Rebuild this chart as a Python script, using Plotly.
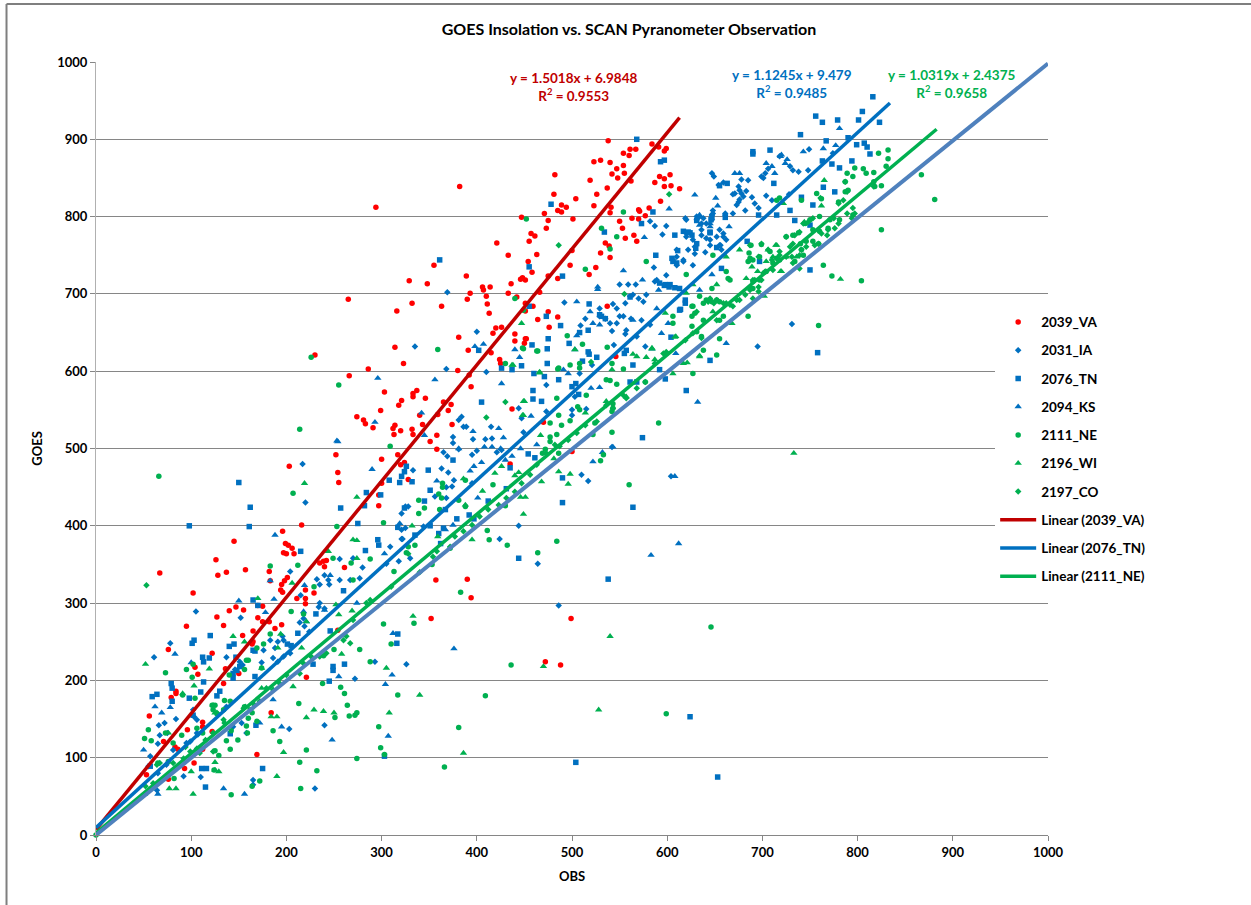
import plotly.graph_objects as go

# values as (OBS, GOES) pairs
va_2039 = [
    (538,898),(561,887),(567,887),(554,882),(560,879),(584,894),(591,890),(599,888),(597,885),(530,873),(523,871),(540,870),
    (554,866),(547,862),(542,855),(555,856),(548,850),(562,846),(519,847),(482,854),(537,837),(526,829),(481,829),(504,823),
    (523,814),(489,815),(494,812),(485,808),(489,806),(471,804),(475,795),(501,797),(473,785),(457,778),(461,775),(455,768),
    (447,799),(463,751),(454,742),(458,728),(448,721),(451,718),(475,723),(485,720),(498,737),(500,756),(541,812),(540,805),
    (570,809),(571,807),(581,811),(577,801),(563,798),(570,797),(550,794),(553,785),(535,766),(539,762),(530,753),(540,747),
    (556,772),(565,776),(568,768),(525,734),(518,725),(587,844),(592,852),(597,849),(603,854),(597,839),(604,840),(613,836),
    (593,820),(537,684),(475,677),(485,670),(464,667),(459,684),(476,657),(451,642),(450,636),(382,839),(294,812),(421,766),
    (433,750),(355,737),(329,717),(348,713),(389,723),(446,719),(436,713),(406,709),(407,705),(414,709),(393,701),(433,701),
    (466,702),(390,693),(410,697),(265,693),(442,696),(332,688),(411,687),(363,684),(316,678),(451,688),(413,675),(451,678),
    (420,656),(426,657),(417,649),(440,648),(381,644),(440,639),(452,642),(314,631),(391,627),(415,624),(230,621),(323,610),
    (424,615),(425,610),(286,603),(380,601),(392,595),(266,594),(394,580),(303,573),(333,571),(337,575),(333,567),(346,565),
    (365,560),(373,557),(321,562),(318,556),(299,549),(370,549),(359,544),(340,543),(274,541),(281,537),(283,532),(374,531),
    (343,531),(314,530),(312,526),(291,527),(332,525),(320,523),(313,518),(333,518),(437,551),(358,517),(351,509),(252,492),
    (358,499),(317,492),(300,486),(203,477),(320,479),(324,482),(254,469),(255,456),(328,460),(300,455),(297,440),(297,426),
    (196,393),(216,401),(145,380),(199,377),(202,375),(206,371),(197,365),(200,364),(208,364),(126,356),(157,343),(67,339),
    (128,336),(137,340),(182,341),(183,329),(201,333),(198,329),(195,324),(194,317),(196,314),(102,313),(220,317),(220,306),
    (220,299),(229,313),(211,306),(147,295),(140,290),(155,291),(170,297),(175,296),(127,282),(170,281),(175,276),(182,276),
    (195,272),(188,267),(95,270),(134,271),(165,264),(154,258),(165,250),(164,247),(76,240),(122,235),(104,217),(107,208),
    (136,215),(150,209),(134,196),(84,186),(84,183),(79,178),(221,204),(239,354),(242,355),(235,352),(240,347),(261,346),
    (56,154),(112,146),(112,140),(96,136),(122,134),(71,121),(83,114),(86,111),(112,111),(103,93),(93,86),(76,72),(53,78),
    (169,104),(184,158),(254,265),(546,619),(500,496),(435,480),(470,534),(357,330),(390,331),(394,307),(352,280),(499,280),
    (472,224),(488,220),
]

ia_2031 = [
    (749,887),(647,856),(649,852),(678,848),(685,847),(669,829),(675,839),(676,834),(680,826),(689,825),(675,819),(673,815),
    (692,817),(696,811),(704,827),(669,804),(682,808),(728,829),(701,850),(699,852),(703,856),(706,862),(718,878),(729,865),
    (732,860),(738,858),(748,860),(774,882),(631,800),(634,800),(636,791),(648,804),(647,796),(661,802),(599,788),(595,777),
    (587,788),(582,794),(620,796),(620,778),(627,770),(636,783),(645,770),(652,774),(659,778),(662,770),(656,763),(657,757),
    (640,754),(629,761),(622,757),(610,757),(606,744),(610,737),(617,744),(586,734),(587,716),(550,712),(559,712),(567,712),
    (492,689),(543,687),(556,688),(561,697),(564,699),(570,694),(578,699),(575,690),(529,681),(547,681),(550,671),(554,671),
    (514,668),(509,659),(529,671),(535,668),(540,662),(547,662),(562,668),(557,653),(542,652),(573,666),(577,632),(731,661),
    (695,632),(568,645),(582,660),(544,634),(335,632),(368,603),(410,599),(381,537),(384,541),(386,528),(389,528),(415,528),
    (375,515),(396,512),(409,512),(416,513),(375,507),(381,499),(365,495),(369,490),(395,492),(400,497),(421,495),(426,498),
    (363,474),(370,469),(333,472),(376,459),(368,450),(374,451),(356,438),(368,436),(395,455),(424,383),(444,400),(464,351),
    (486,297),(330,358),(510,466),(517,458),(604,464),(542,502),(444,552),(447,539),(449,521),(473,582),(500,550),(500,543),
    (503,567),(515,551),(521,608),(556,648),(508,597),(473,548),(321,416),(325,425),(328,425),(321,395),(325,397),(321,383),
    (344,399),(369,702),(400,651),(217,480),(220,430),(105,289),(152,281),(78,248),(61,230),(137,230),(176,239),(191,250),
    (188,242),(197,252),(183,252),(232,331),(235,324),(244,330),(245,324),(240,336),(280,346),(256,357),(270,358),(305,351),
    (318,354),(322,383),(309,373),(215,310),(235,300),(214,275),(218,280),(224,263),(293,224),(326,221),(272,202),(240,142),
    (203,137),(230,60),(110,75),(92,76),(72,145),(66,142),(67,129),(65,118),(57,102),(84,150),(75,132),(106,149),(102,162),
    (103,153),(95,119),(106,132),(137,166),(146,214),(151,224),(154,220),(197,231),(204,235),(158,132),(153,145),(144,140),
    (55,89),(65,80),(64,58),(165,71),(165,65),(81,84),(74,91),(99,121),(107,130),
    (659,844),(654,841),(671,830),(683,833),(678,830),(676,822),(710,821),(631,796),(638,798),(619,798),(641,791),(647,802),
    (648,808),(661,804),(620,774),(641,772),(636,776),(655,783),(659,774),(655,763),(645,763),(629,752),(610,748),(617,742),
    (599,724),(627,737),(589,718),(204,341),(256,330),(267,330),(277,332),(234,295),(240,293),(219,270),(186,229),(191,224),
    (196,257),(174,223),(81,110),
]

tn_2076 = [
    (816,955),(805,936),(756,930),(763,922),(779,925),(801,925),(823,922),(740,906),(790,902),(767,898),(799,893),(807,895),
    (810,890),(813,881),(708,886),(690,884),(690,881),(763,872),(794,872),(773,868),(781,863),(712,843),(776,832),(764,838),
    (663,843),(655,840),(593,871),(597,873),(568,900),(478,816),(490,723),(455,735),(585,806),(573,791),(534,780),(608,776),
    (588,750),(696,802),(715,802),(753,815),(741,825),(729,808),(734,795),(750,789),(750,731),(697,742),(597,711),(592,714),
    (602,709),(608,708),(613,707),(518,687),(455,684),(473,671),(488,659),(475,642),(474,629),(458,634),(497,636),(517,625),
    (518,622),(526,618),(614,680),(758,624),(517,653),(508,650),(531,671),(561,696),(604,644),(555,623),(557,627),(657,733),
    (605,746),(606,742),(617,781),(622,780),(626,776),(645,780),(647,800),(402,627),(447,607),(474,610),(511,613),(426,604),
    (437,602),(460,597),(471,593),(486,589),(504,584),(500,580),(507,570),(459,575),(459,564),(468,561),(405,560),(564,608),
    (561,586),(568,586),(598,590),(592,602),(620,575),(645,614),(574,514),(490,462),(490,430),(564,424),(444,358),(538,331),
    (454,493),(461,488),(435,475),(349,472),(332,457),(326,477),(321,464),(351,446),(345,432),(367,421),(379,409),(392,414),
    (397,409),(412,432),(365,397),(360,390),(335,388),(351,400),(362,377),(431,448),(375,485),(361,744),(150,456),(162,424),
    (98,400),(161,399),(284,443),(299,440),(308,459),(319,456),(324,470),(282,426),(257,423),(275,403),(324,423),(317,398),
    (215,367),(283,368),(296,382),(297,375),(260,316),(170,297),(165,304),(120,258),(140,244),(145,247),(212,261),(246,264),
    (231,286),(103,252),(101,248),(112,230),(113,224),(119,229),(147,230),(144,203),(167,205),(113,198),(79,196),(80,190),
    (59,179),(64,182),(80,173),(98,177),(110,185),(127,180),(130,186),(201,247),(205,245),(165,239),(249,213),(249,218),
    (261,221),(245,199),(228,221),(317,260),(316,248),(303,102),(175,86),(115,62),(111,86),(116,86),(168,142),(102,155),
    (504,94),(624,153),(653,75),
    (624,779),(631,795),(646,796),(661,799),(645,779),(631,765),(630,759),(652,760),(611,756),(610,740),(598,712),(603,712),
    (619,692),(619,688),(613,679),(529,673),(535,668),(684,768),(167,238),(141,131),(151,218),(148,213),(144,209),(57,89),
]

ks_2094 = [
    (781,914),(777,892),(743,884),(726,874),(724,869),(710,865),(704,869),(713,856),(764,888),(671,856),(676,856),(629,828),
    (651,824),(653,814),(720,880),(602,810),(576,773),(634,802),(645,791),(665,787),(554,730),(574,718),(527,709),(527,706),
    (505,690),(519,677),(529,660),(522,662),(594,649),(601,662),(584,629),(634,705),(662,636),(609,623),(564,666),(589,681),
    (503,628),(407,635),(398,632),(440,628),(445,618),(505,646),(356,589),(426,584),(491,602),(496,597),(529,579),(520,578),
    (457,542),(342,546),(345,517),(396,522),(423,526),(428,514),(408,502),(416,502),(425,500),(446,500),(381,500),(463,505),
    (405,482),(397,477),(393,471),(437,490),(430,485),(358,458),(401,436),(632,560),(522,483),(532,495),(543,502),(608,464),
    (612,377),(583,362),(367,395),(375,401),(376,241),(296,591),(293,534),(253,510),(254,509),(290,473),(188,388),(150,303),
    (187,305),(178,288),(83,234),(62,166),(78,165),(69,158),(50,110),(65,53),(134,60),(156,53),(248,123),(195,140),(172,145),
    (255,205),(304,195),(312,261),(307,128),(311,207),(246,336),(219,323),(303,364),(319,403),(274,300),(240,291),(221,276),
    (719,878),(634,789),(645,787),(591,705),(647,725),(183,329),(186,175),(100,223),(218,289),
]

ne_2111 = [
    (0,0),(881,822),(867,854),(825,783),(832,886),(832,875),(822,882),(825,840),(818,839),(817,857),(806,862),(809,856),
    (795,852),(789,856),(787,845),(787,832),(790,834),(797,863),(780,819),(762,823),(804,717),(764,737),(773,723),(759,659),
    (554,806),(547,774),(540,758),(531,785),(514,732),(578,742),(452,797),(449,679),(448,630),(464,626),(511,635),(495,646),
    (537,631),(652,621),(655,642),(685,671),(627,684),(634,697),(647,707),(662,729),(666,718),(688,763),(686,753),(685,742),
    (690,744),(708,755),(725,774),(732,776),(738,779),(745,791),(750,796),(760,800),(718,824),(715,821),(741,821),(757,830),
    (771,796),(753,783),(760,781),(769,785),(746,768),(753,768),(759,765),(740,765),(741,757),(743,750),(734,742),(718,744),
    (715,746),(711,740),(704,729),(697,718),(690,716),(690,707),(781,796),(795,802),(817,845),(830,865),(652,692),(655,690),
    (647,690),(641,692),(638,688),(659,671),(655,666),(626,684),(629,675),(626,671),(638,666),(626,658),(631,651),(636,645),
    (606,671),(606,662),(599,623),(359,628),(463,626),(638,627),(627,597),(547,583),(542,521),(591,533),(560,453),(533,492),
    (530,484),(484,380),(464,365),(383,314),(334,274),(646,269),(432,375),(413,382),(411,394),(430,426),(417,453),(498,536),
    (489,530),(486,543),(477,533),(484,518),(477,515),(477,509),(472,499),(469,494),(486,494),(506,554),(508,550),(515,569),
    (536,589),(540,588),(542,610),(554,603),(577,586),(543,558),(543,552),(542,548),(524,533),(522,518),(508,604),(508,610),
    (486,604),(498,608),(484,565),(364,455),(364,450),(360,441),(363,436),(339,433),(339,416),(345,423),(361,421),(388,425),
    (381,433),(388,459),(335,375),(328,373),(326,365),(353,350),(372,371),(66,464),(309,503),(207,442),(302,404),(253,399),
    (183,348),(212,349),(73,210),(95,214),(101,204),(102,221),(135,174),(176,247),(183,260),(169,242),(160,226),(268,352),
    (288,357),(249,358),(313,341),(270,330),(229,321),(205,289),(302,273),(310,247),(277,240),(250,240),(239,232),(288,224),
    (238,196),(257,191),(261,183),(264,168),(213,170),(317,181),(266,154),(272,155),(274,158),(297,140),(299,113),(303,104),
    (274,99),(214,94),(232,83),(215,60),(142,52),(164,63),(172,70),(193,121),(221,110),(186,135),(149,123),(137,122),(141,111),
    (159,132),(158,141),(164,158),(160,151),(142,135),(125,109),(129,103),(124,84),(51,125),(58,122),(55,136),(65,93),(76,95),
    (73,132),(82,73),(112,132),(106,138),(104,177),(91,181),(158,226),(156,214),(140,207),(174,216),(218,286),(226,618),
    (255,582),(214,525),(430,610),(440,694),(449,629),(485,603),(436,220),(409,180),(381,139),(366,88),(599,157),
    (699,764),(687,746),(697,748),(648,750),(620,725),(664,720),(81,119),(90,129),(125,168),(134,162),(123,162),(122,168),
    (127,157),(162,162),(169,147),(156,166),(141,173),(251,152),
]

wi_2196 = [
    (219,455),(274,437),(270,382),(274,381),(244,367),(274,358),(170,306),(144,257),(194,260),(156,250),(216,242),(191,242),
    (119,215),(174,216),(52,221),(103,193),(123,168),(91,183),(125,158),(157,166),(174,190),(184,153),(190,153),(221,152),
    (229,162),(239,160),(250,158),(308,158),(207,192),(197,107),(125,94),(190,76),(102,53),(84,60),(77,60),(51,53),(76,132),
    (305,216),(258,234),(252,298),(269,290),(255,285),(206,326),(221,276),(100,82),(125,84),(129,82),(333,283),(449,415),
    (446,437),(451,437),(468,457),(496,454),(498,467),(486,470),(419,468),(395,382),(449,561),(467,517),(448,543),(514,546),
    (438,608),(426,477),(444,469),(440,465),(386,461),(332,400),(388,427),(359,386),(406,445),(481,487),(608,644),(564,622),
    (578,618),(584,630),(587,615),(606,597),(617,610),(621,611),(634,619),(542,602),(466,599),(503,628),(557,567),(536,561),
    (782,719),(765,847),(762,814),(715,763),(722,817),(702,697),(668,662),(634,620),(568,619),(598,675),(584,629),(689,735),
    (695,729),(683,720),(662,748),(676,757),(706,757),(711,748),(720,729),(725,748),(736,748),(744,793),(447,662),(609,645),
    (620,701),(648,677),(437,608),(466,598),(450,561),(449,543),(733,494),(340,181),(540,257),(470,218),(528,162),(386,106),
    (714,763),(704,742),(719,729),(652,712),(627,712),
]

co_2197 = [
    (776,785),(769,783),(768,776),(762,778),(759,765),(755,763),(741,757),(746,761),(739,750),(732,740),(739,733),(731,748),
    (725,748),(718,755),(717,744),(710,744),(703,729),(699,718),(690,718),(696,709),(687,709),(682,699),(673,692),(666,686),
    (659,688),(652,692),(649,688),(645,694),(690,694),(696,703),(775,798),(780,791),(797,804),(789,804),(794,798),(795,811),
    (785,821),(780,817),(817,839),(729,761),(725,774),(734,776),(739,780),(748,793),(753,798),(743,791),(761,824),(789,832),
    (787,845),(687,763),(699,765),(706,757),(687,744),(696,748),(636,643),(627,649),(619,640),(599,625),(596,623),(587,610),
    (577,586),(568,578),(557,565),(554,569),(543,552),(536,556),(526,535),(514,530),(505,520),(496,511),(487,503),(482,505),
    (473,494),(463,479),(456,466),(447,455),(440,444),(431,436),(423,427),(412,421),(403,412),(395,401),(386,393),(377,386),
    (372,373),(358,367),(354,360),(328,364),(288,304),(284,300),(310,321),(270,278),(263,257),(260,252),(267,248),(242,235),
    (235,231),(226,231),(218,222),(214,209),(200,207),(193,196),(186,188),(179,190),(172,173),(165,170),(155,164),(135,145),
    (134,149),(127,158),(123,132),(115,123),(106,112),(99,108),(81,93),(78,80),(67,93),(64,91),(60,67),(52,63),(53,323),
    (94,114),(123,108),(109,106),(92,99),(486,763),(602,829),(555,700),(520,612),(430,560),(410,540),(340,340),
    (732,765),(718,750),(711,731),(701,727),(692,718),(687,705),(676,692),(662,688),(669,684),(652,666),(643,690),(631,677),
]

trend_va_x = [0, 613]
trend_va_y = [7, 928]
trend_tn_x = [0, 834]
trend_tn_y = [9.5, 947]
trend_ne_x = [0, 883]
trend_ne_y = [2.4, 913]
unity_x = [0, 1000]
unity_y = [0, 998]

RED = '#FF0000'
BLUE = '#0070C0'
GREEN = '#00B050'
FONT = 'Lato'

fig = go.Figure()


def add_points(name, points, color, symbol, size):
    fig.add_trace(go.Scatter(
        x=[p[0] for p in points],
        y=[p[1] for p in points],
        mode='markers',
        name=name,
        legendgroup=name,
        cliponaxis=False,
        marker=dict(color=color, symbol=symbol, size=size, line=dict(width=0)),
    ))


add_points('2039_VA', va_2039, RED, 'circle', 5.5)
add_points('2031_IA', ia_2031, BLUE, 'diamond', 5)
add_points('2076_TN', tn_2076, BLUE, 'square', 5.5)
add_points('2094_KS', ks_2094, BLUE, 'triangle-up', 6.5)
add_points('2111_NE', ne_2111, GREEN, 'circle', 5.5)
add_points('2196_WI', wi_2196, GREEN, 'triangle-up', 6.5)
add_points('2197_CO', co_2197, GREEN, 'diamond', 5)

for name, xs, ys, color in [
    ('Linear (2039_VA)', trend_va_x, trend_va_y, '#C00000'),
    ('Linear (2076_TN)', trend_tn_x, trend_tn_y, BLUE),
    ('Linear (2111_NE)', trend_ne_x, trend_ne_y, GREEN),
]:
    fig.add_trace(go.Scatter(x=xs, y=ys, mode='lines', name=name, legendgroup=name,
                             line=dict(color=color, width=3.5)))

fig.add_trace(go.Scatter(x=unity_x, y=unity_y, mode='lines', showlegend=False,
                         line=dict(color='#4F81BD', width=4)))

for text, x, y, color in [
    ('y = 1.5018x + 6.9848<br>R<sup>2</sup> = 0.9553', 502, 968, '#C00000'),
    ('y = 1.1245x + 9.479<br>R<sup>2</sup> = 0.9485', 731, 972, BLUE),
    ('y = 1.0319x + 2.4375<br>R<sup>2</sup> = 0.9658', 899, 972, GREEN),
]:
    fig.add_annotation(x=x, y=y, text=text, showarrow=False, align='center',
                       font=dict(family=FONT, size=13.5, color=color, weight='bold'))

axis_font = dict(family=FONT, size=13, color='#000000', weight='bold')
fig.update_layout(
    width=1251,
    height=905,
    margin=dict(l=96, r=203, t=62, b=70, autoexpand=False),
    paper_bgcolor='white',
    plot_bgcolor='white',
    title=dict(text='GOES Insolation vs. SCAN Pyranometer Observation', x=629 / 1251, xanchor='center',
               y=1 - 29 / 905, yanchor='middle', font=dict(family=FONT, size=16, color='#000000', weight='bold')),
    legend=dict(x=0.9445, xanchor='left', y=0.6835, yanchor='top', bgcolor='white', itemwidth=36,
                tracegroupgap=7.7, font=dict(family=FONT, size=13.5, color='#000000', weight='bold')),
    xaxis=dict(range=[0, 1000], dtick=100, ticks='outside', ticklen=5, tickcolor='#868686', showgrid=False,
               zeroline=False, showline=True, linecolor='#868686', tickfont=axis_font,
               title=dict(text='OBS', font=axis_font, standoff=13)),
    yaxis=dict(range=[0, 1000], dtick=100, ticks='outside', ticklen=5, tickcolor='#868686', showgrid=True,
               gridcolor='#868686', gridwidth=1, zeroline=False, showline=True, linecolor='#B0B0B0',
               tickfont=axis_font, title=dict(text='GOES', font=axis_font, standoff=11)),
    # outer chart frame, only top and left are inside the picture
    shapes=[
        dict(type='line', xref='paper', yref='paper', x0=-0.094, x1=1.22, y0=1.0750, y1=1.0750,
             line=dict(color='#7F7F7F', width=2)),
        dict(type='line', xref='paper', yref='paper', x0=-0.094, x1=-0.094, y0=1.0750, y1=-0.091,
             line=dict(color='#7F7F7F', width=2)),
    ],
)

fig.write_html('out.html', config={'displayModeBar': False},
               post_script="document.body.style.margin='0';document.body.style.overflow='hidden';")
